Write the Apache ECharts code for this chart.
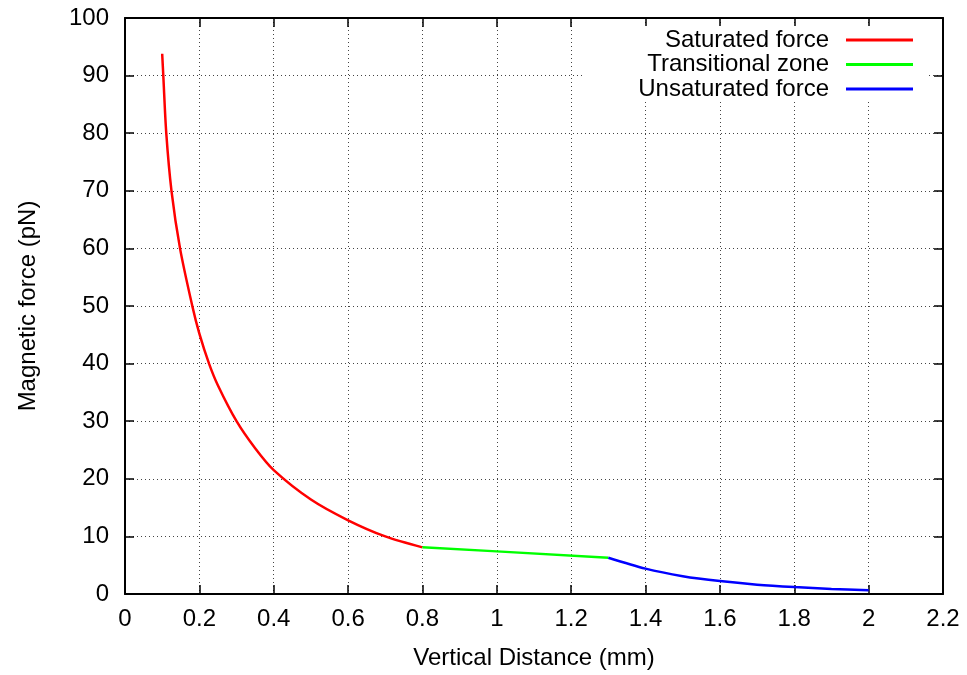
<!DOCTYPE html>
<html>
<head>
<meta charset="utf-8">
<script src="https://cdn.jsdelivr.net/npm/echarts@6/dist/echarts.min.js"></script>
<style>
html,body{margin:0;padding:0;background:#fff;overflow:hidden;}
#chart{width:967px;height:675px;}
</style>
</head>
<body>
<div id="chart"></div>
<script>
// ---- data ----
const satX = [0.1, 0.103, 0.111, 0.125, 0.148, 0.181, 0.2, 0.226, 0.25, 0.3, 0.35, 0.4, 0.5, 0.6, 0.7, 0.8];
const satY = [93.8, 90, 80, 70, 60, 50, 45.2, 40, 36.2, 30, 25.3, 21.5, 16.4, 12.8, 10, 8.1];
const transX = [0.8, 1.0, 1.3];
const transY = [8.1, 7.4, 6.3];
const unsatX = [1.3, 1.4, 1.5, 1.6, 1.7, 1.8, 1.9, 2.0];
const unsatY = [6.3, 4.4, 3.1, 2.24, 1.62, 1.2, 0.88, 0.63];
const seriesNames = ['Saturated force', 'Transitional zone', 'Unsaturated force'];
const xAxisName = 'Vertical Distance (mm)';
const yAxisName = 'Magnetic force (pN)';

const FONT = "'Liberation Sans', Arial, Helvetica, sans-serif";
const zip = (xs, ys) => xs.map((x, i) => [x, ys[i]]);

const chart = echarts.init(document.getElementById('chart'), null, {renderer: 'canvas'});

const baseX = {type: 'value', min: 0, max: 2.2, interval: 0.2};
const baseY = {type: 'value', min: 0, max: 100, interval: 10};
const axisLine = {show: true, onZero: false, lineStyle: {color: '#000', width: 2}};
const tick = {show: true, inside: true, length: 9, lineStyle: {color: '#000', width: 1.5}};
const split = {show: true, lineStyle: {color: '#444', width: 1, type: [1, 3]}};

function legend(name, top) {
  return {
    data: [name], right: 54, top: top, padding: 0, align: 'right', orient: 'vertical',
    icon: 'rect', itemWidth: 67, itemHeight: 3, z: 20,
    textStyle: {fontFamily: FONT, fontSize: 24, color: '#000', padding: [0, 12, 0, 0]},
    selectedMode: false
  };
}

const option = {
  backgroundColor: '#fff',
  animation: false,
  grid: {left: 125, right: 24, top: 18, bottom: 77, containLabel: false},
  graphic: [{
    type: 'rect', z: 10,
    shape: {x: 582, y: 26, width: 346, height: 74},
    style: {fill: '#fff'}
  }],
  legend: [
    legend(seriesNames[0], 28),
    legend(seriesNames[1], 52.5),
    legend(seriesNames[2], 77)
  ],
  xAxis: [
    Object.assign({}, baseX, {
      position: 'bottom',
      name: xAxisName, nameLocation: 'middle', nameGap: 52,
      nameTextStyle: {fontFamily: FONT, fontSize: 24, color: '#000'},
      axisLine: axisLine, axisTick: tick, splitLine: split,
      axisLabel: {fontFamily: FONT, fontSize: 24, color: '#000', margin: 13}
    }),
    Object.assign({}, baseX, {
      position: 'top',
      axisLine: axisLine, axisTick: tick, splitLine: {show: false},
      axisLabel: {show: false}
    })
  ],
  yAxis: [
    Object.assign({}, baseY, {
      position: 'left',
      name: yAxisName, nameLocation: 'middle', nameGap: 85, nameRotate: 90,
      nameTextStyle: {fontFamily: FONT, fontSize: 24, color: '#000'},
      axisLine: axisLine, axisTick: tick, splitLine: split,
      axisLabel: {fontFamily: FONT, fontSize: 24, color: '#000', margin: 16}
    }),
    Object.assign({}, baseY, {
      position: 'right',
      axisLine: axisLine, axisTick: tick, splitLine: {show: false},
      axisLabel: {show: false}
    })
  ],
  series: [
    {name: seriesNames[0], type: 'line', data: zip(satX, satY), smooth: 0.3,
     showSymbol: false, symbol: 'none', color: '#ff0000', lineStyle: {color: '#ff0000', width: 2.5}, z: 3},
    {name: seriesNames[1], type: 'line', data: zip(transX, transY), smooth: false,
     showSymbol: false, symbol: 'none', color: '#00ff00', lineStyle: {color: '#00ff00', width: 2.5}, z: 3},
    {name: seriesNames[2], type: 'line', data: zip(unsatX, unsatY), smooth: 0.3,
     showSymbol: false, symbol: 'none', color: '#0000ff', lineStyle: {color: '#0000ff', width: 2.5}, z: 3}
  ]
};
chart.setOption(option);
</script>
</body>
</html>
